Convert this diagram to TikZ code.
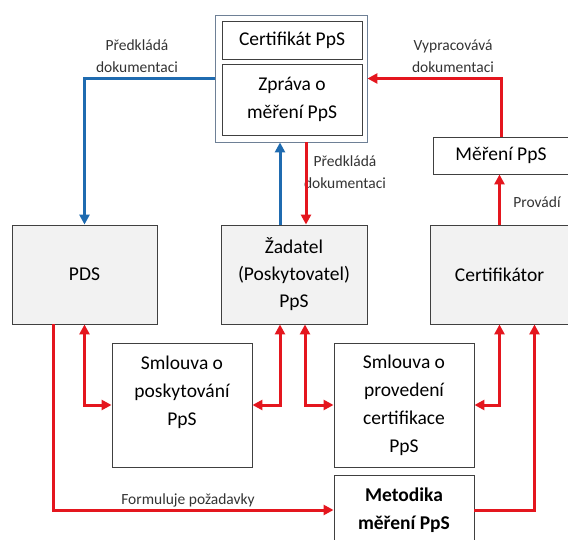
\documentclass[tikz,border=0pt]{standalone}
\usepackage{fontspec}
\setmainfont{Carlito}
\usetikzlibrary{arrows.meta}

\definecolor{boxline}{RGB}{64,64,64}
\definecolor{boxfill}{RGB}{242,242,242}
\definecolor{outerline}{RGB}{110,128,150}
\definecolor{docblue}{RGB}{31,107,176}
\definecolor{docred}{RGB}{228,22,30}

\begin{document}
\begin{tikzpicture}[x=1pt,y=-1pt,
    party/.style={draw=boxline,fill=boxfill,line width=0.9pt,align=center,
        font=\fontsize{19.5}{27}\selectfont,inner sep=0pt},
    doc/.style={draw=boxline,fill=white,line width=0.9pt,align=center,
        font=\fontsize{19.5}{28}\selectfont,inner sep=0pt},
    lbl/.style={align=center,font=\fontsize{15.5}{22}\selectfont,text=black!80},
    blueline/.style={draw=docblue,line width=3pt,-{Triangle[length=10pt,width=10pt]}},
    redline/.style={draw=docred,line width=3pt,-{Triangle[length=10pt,width=10pt]}},
    redboth/.style={draw=docred,line width=3pt,
        {Triangle[length=10pt,width=10pt]}-{Triangle[length=10pt,width=10pt]}}]
\useasboundingbox (0,0) rectangle (568,540);

\node[draw=outerline,line width=0.9pt,minimum width=152pt,minimum height=127pt] (top) at (291,78.5) {};
\node[doc,minimum width=140pt,minimum height=38pt] (cert) at (292,40) {Certifikát PpS};
\node[doc,minimum width=140pt,minimum height=71pt] (zprava) at (292,99.5) {Zpráva o\\měření PpS};
\node[doc,minimum width=135pt,minimum height=37pt] (mereni) at (501,155.5) {Měření PpS};

\node[party,minimum width=145pt,minimum height=99pt] (pds) at (84.5,274.5) {PDS};
\node[party,minimum width=146pt,minimum height=99pt] (zadatel) at (294,274.5) {Žadatel\\(Poskytovatel)\\PpS};
\node[party,minimum width=139pt,minimum height=99pt] (certifikator) at (499.5,274.5) {Certifikátor};

\node[doc,minimum width=140pt,minimum height=124pt] (smlpos) at (182,405) {Smlouva o\\poskytování\\PpS\\\mbox{}};
\node[doc,minimum width=140pt,minimum height=124pt] (smlprov) at (404,405) {Smlouva o\\provedení\\certifikace\\PpS};
\node[doc,minimum width=140pt,minimum height=70pt,font=\fontsize{19.5}{28}\selectfont\bfseries] (metodika) at (404,510) {Metodika\\měření PpS};

\node[lbl] (l1) at (137,56) {Předkládá\\dokumentaci};
\node[lbl] (l2) at (453,56) {Vypracovává\\dokumentaci};
\node[lbl] (l3) at (345,172) {Předkládá\\dokumentaci};
\node[lbl] (l4) at (537,202) {Provádí};
\node[lbl] (l5) at (188,500) {Formuluje požadavky};

\draw[blueline] (top.west) -| (pds.north);
\draw[blueline] ([xshift=-14pt]zadatel.north) -- ([xshift=-14pt]zadatel.north |- top.south);
\draw[redline] ([xshift=12pt]zadatel.north |- top.south) -- ([xshift=12pt]zadatel.north);
\draw[redline] (mereni.north) |- (top.east);
\draw[redline] (certifikator.north) -- (certifikator.north |- mereni.south);

\draw[redboth] (pds.south) |- (smlpos.west);
\draw[redboth] ([xshift=-14pt]zadatel.south) |- (smlpos.east);
\draw[redboth] ([xshift=11pt]zadatel.south) |- (smlprov.west);
\draw[redboth] (certifikator.south) |- (smlprov.east);
\draw[redline] ([xshift=-31.5pt]pds.south) |- (metodika.west);
\draw[redline] (metodika.east) -| ([xshift=35pt]certifikator.south);
\end{tikzpicture}
\end{document}
